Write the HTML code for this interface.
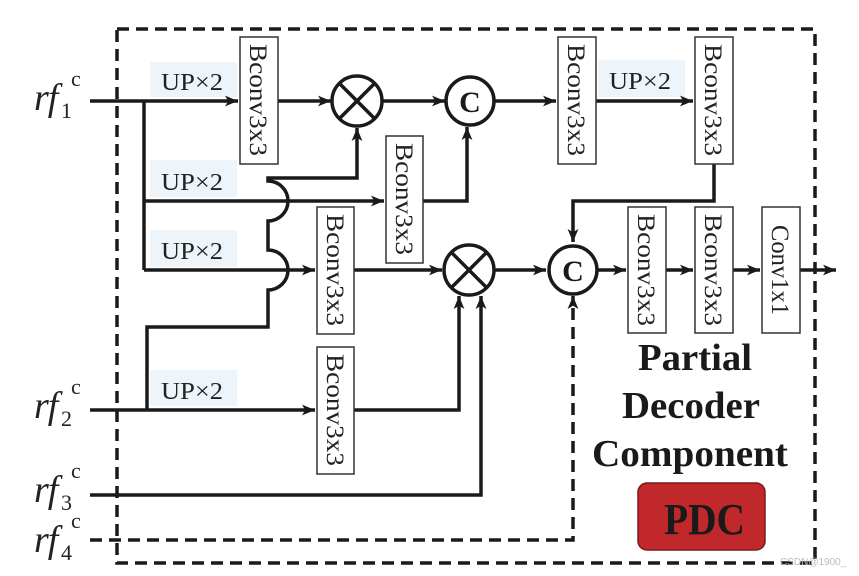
<!DOCTYPE html>
<html><head><meta charset="utf-8"><style>
html,body{margin:0;padding:0;background:#fff;}
svg{display:block;}
.ser{font-family:"Liberation Serif",serif;}
</style></head><body>
<svg width="859" height="576" viewBox="0 0 859 576" xmlns="http://www.w3.org/2000/svg">
<defs>
<marker id="ar" viewBox="0 0 12 10" refX="12" refY="5" markerWidth="13" markerHeight="11" orient="auto" markerUnits="userSpaceOnUse"><path d="M0,0 L12,5 L0,10 L3,5 z" fill="#1a1a1a"/></marker>
</defs>
<g fill="#eef5fa">
<rect x="150" y="62" width="87" height="35"/>
<rect x="150" y="160" width="87" height="37"/>
<rect x="150" y="230" width="87" height="37"/>
<rect x="150" y="370" width="87" height="36"/>
<rect x="598" y="60" width="87" height="37"/>
</g>
<rect x="117" y="29" width="698" height="534" fill="none" stroke="#1a1a1a" stroke-width="3.5" stroke-dasharray="12,7"/>
<g stroke="#1a1a1a" stroke-width="3.5" fill="none">
<line x1="90" y1="101" x2="238" y2="101" marker-end="url(#ar)"/>
<polyline points="144,101 144,270"/>
<line x1="278" y1="101" x2="331" y2="101" marker-end="url(#ar)"/>
<line x1="382" y1="101" x2="445" y2="101" marker-end="url(#ar)"/>
<line x1="494" y1="101" x2="556" y2="101" marker-end="url(#ar)"/>
<line x1="596" y1="101" x2="693" y2="101" marker-end="url(#ar)"/>
<polyline points="714,164 714,201 573,201 573,242" marker-end="url(#ar)"/>
<line x1="144" y1="201" x2="384" y2="201" marker-end="url(#ar)"/>
<polyline points="423,201 467,201 467,127" marker-end="url(#ar)"/>
<line x1="144" y1="270" x2="315" y2="270" marker-end="url(#ar)"/>
<line x1="354" y1="270" x2="442" y2="270" marker-end="url(#ar)"/>
<line x1="494" y1="270" x2="546" y2="270" marker-end="url(#ar)"/>
<line x1="598" y1="270" x2="626" y2="270" marker-end="url(#ar)"/>
<line x1="666" y1="270" x2="693" y2="270" marker-end="url(#ar)"/>
<line x1="733" y1="270" x2="760" y2="270" marker-end="url(#ar)"/>
<line x1="800" y1="270" x2="836" y2="270" marker-end="url(#ar)"/>
<path d="M147,410 L147,327 L268,327 L268,290 A20,20 0 0 0 268,250 L268,221 A20,20 0 0 0 268,181 L268,178 L357,178 L357,128" marker-end="url(#ar)"/>
<line x1="90" y1="410" x2="315" y2="410" marker-end="url(#ar)"/>
<polyline points="354,410 459,410 459,296" marker-end="url(#ar)"/>
<polyline points="90,495 481,495 481,296" marker-end="url(#ar)"/>
<polyline points="90,540 573,540 573,296" stroke-dasharray="12,7" marker-end="url(#ar)"/>
<circle cx="357" cy="101" r="25" fill="#fff"/>
<line x1="339" y1="83" x2="375" y2="119"/><line x1="375" y1="83" x2="339" y2="119"/>
<circle cx="470" cy="101" r="24" fill="#fff"/>
<circle cx="469" cy="270" r="25" fill="#fff"/>
<line x1="451" y1="252" x2="487" y2="288"/><line x1="487" y1="252" x2="451" y2="288"/>
<circle cx="573" cy="270" r="24" fill="#fff"/>
</g>
<g class="ser" font-size="30" font-weight="bold" text-anchor="middle" fill="#1a1a1a">
<text x="470" y="112">C</text><text x="573" y="281">C</text>
</g>
<g stroke="#333" stroke-width="1.5" fill="#fff">
<rect x="240" y="37" width="38" height="127"/>
<rect x="558" y="37" width="38" height="127"/>
<rect x="695" y="37" width="38" height="127"/>
<rect x="386" y="136" width="37" height="127"/>
<rect x="317" y="207" width="37" height="127"/>
<rect x="628" y="207" width="38" height="126"/>
<rect x="695" y="207" width="38" height="126"/>
<rect x="762" y="207" width="38" height="126"/>
<rect x="317" y="347" width="37" height="127"/>
</g>
<g class="ser" font-size="25" fill="#222" text-anchor="middle">
<text transform="translate(250,100) rotate(90)" textLength="112" lengthAdjust="spacingAndGlyphs">Bconv3x3</text>
<text transform="translate(568,100) rotate(90)" textLength="112" lengthAdjust="spacingAndGlyphs">Bconv3x3</text>
<text transform="translate(705,100) rotate(90)" textLength="112" lengthAdjust="spacingAndGlyphs">Bconv3x3</text>
<text transform="translate(396,199) rotate(90)" textLength="112" lengthAdjust="spacingAndGlyphs">Bconv3x3</text>
<text transform="translate(327,270) rotate(90)" textLength="112" lengthAdjust="spacingAndGlyphs">Bconv3x3</text>
<text transform="translate(638,270) rotate(90)" textLength="112" lengthAdjust="spacingAndGlyphs">Bconv3x3</text>
<text transform="translate(705,270) rotate(90)" textLength="112" lengthAdjust="spacingAndGlyphs">Bconv3x3</text>
<text transform="translate(772,270) rotate(90)" textLength="90" lengthAdjust="spacingAndGlyphs">Conv1x1</text>
<text transform="translate(327,410) rotate(90)" textLength="112" lengthAdjust="spacingAndGlyphs">Bconv3x3</text>
</g>
<g class="ser" font-size="24" fill="#222">
<text x="161" y="90" textLength="62" lengthAdjust="spacingAndGlyphs">UP×2</text>
<text x="161" y="190" textLength="62" lengthAdjust="spacingAndGlyphs">UP×2</text>
<text x="161" y="259" textLength="62" lengthAdjust="spacingAndGlyphs">UP×2</text>
<text x="161" y="399" textLength="62" lengthAdjust="spacingAndGlyphs">UP×2</text>
<text x="609" y="89" textLength="62" lengthAdjust="spacingAndGlyphs">UP×2</text>
</g>
<g class="ser" fill="#222">
<text x="34" y="110" font-size="38" font-style="italic" letter-spacing="-1">rf</text><text x="61" y="118" font-size="22">1</text><text x="71" y="86" font-size="22">c</text>
<text x="34" y="418" font-size="38" font-style="italic" letter-spacing="-1">rf</text><text x="61" y="426" font-size="22">2</text><text x="71" y="394" font-size="22">c</text>
<text x="34" y="502" font-size="38" font-style="italic" letter-spacing="-1">rf</text><text x="61" y="510" font-size="22">3</text><text x="71" y="478" font-size="22">c</text>
<text x="34" y="552" font-size="38" font-style="italic" letter-spacing="-1">rf</text><text x="61" y="560" font-size="22">4</text><text x="71" y="528" font-size="22">c</text>
</g>
<g class="ser" font-size="38" font-weight="bold" fill="#1a1a1a">
<text x="638" y="370" textLength="114" lengthAdjust="spacingAndGlyphs">Partial</text>
<text x="622" y="418" textLength="138" lengthAdjust="spacingAndGlyphs">Decoder</text>
<text x="592" y="466" textLength="196" lengthAdjust="spacingAndGlyphs">Component</text>
</g>
<rect x="638" y="483" width="127" height="67" rx="9" fill="#c0282b" stroke="#7a1a1a" stroke-width="1.5"/>
<text x="664" y="534" class="ser" font-size="44" font-weight="bold" fill="#1a1a1a" textLength="81" lengthAdjust="spacingAndGlyphs">PDC</text>
<text x="780" y="565" font-family="Liberation Sans,sans-serif" font-size="10" fill="#bbb">CSDN@1900_</text>
</svg>
</body></html>
